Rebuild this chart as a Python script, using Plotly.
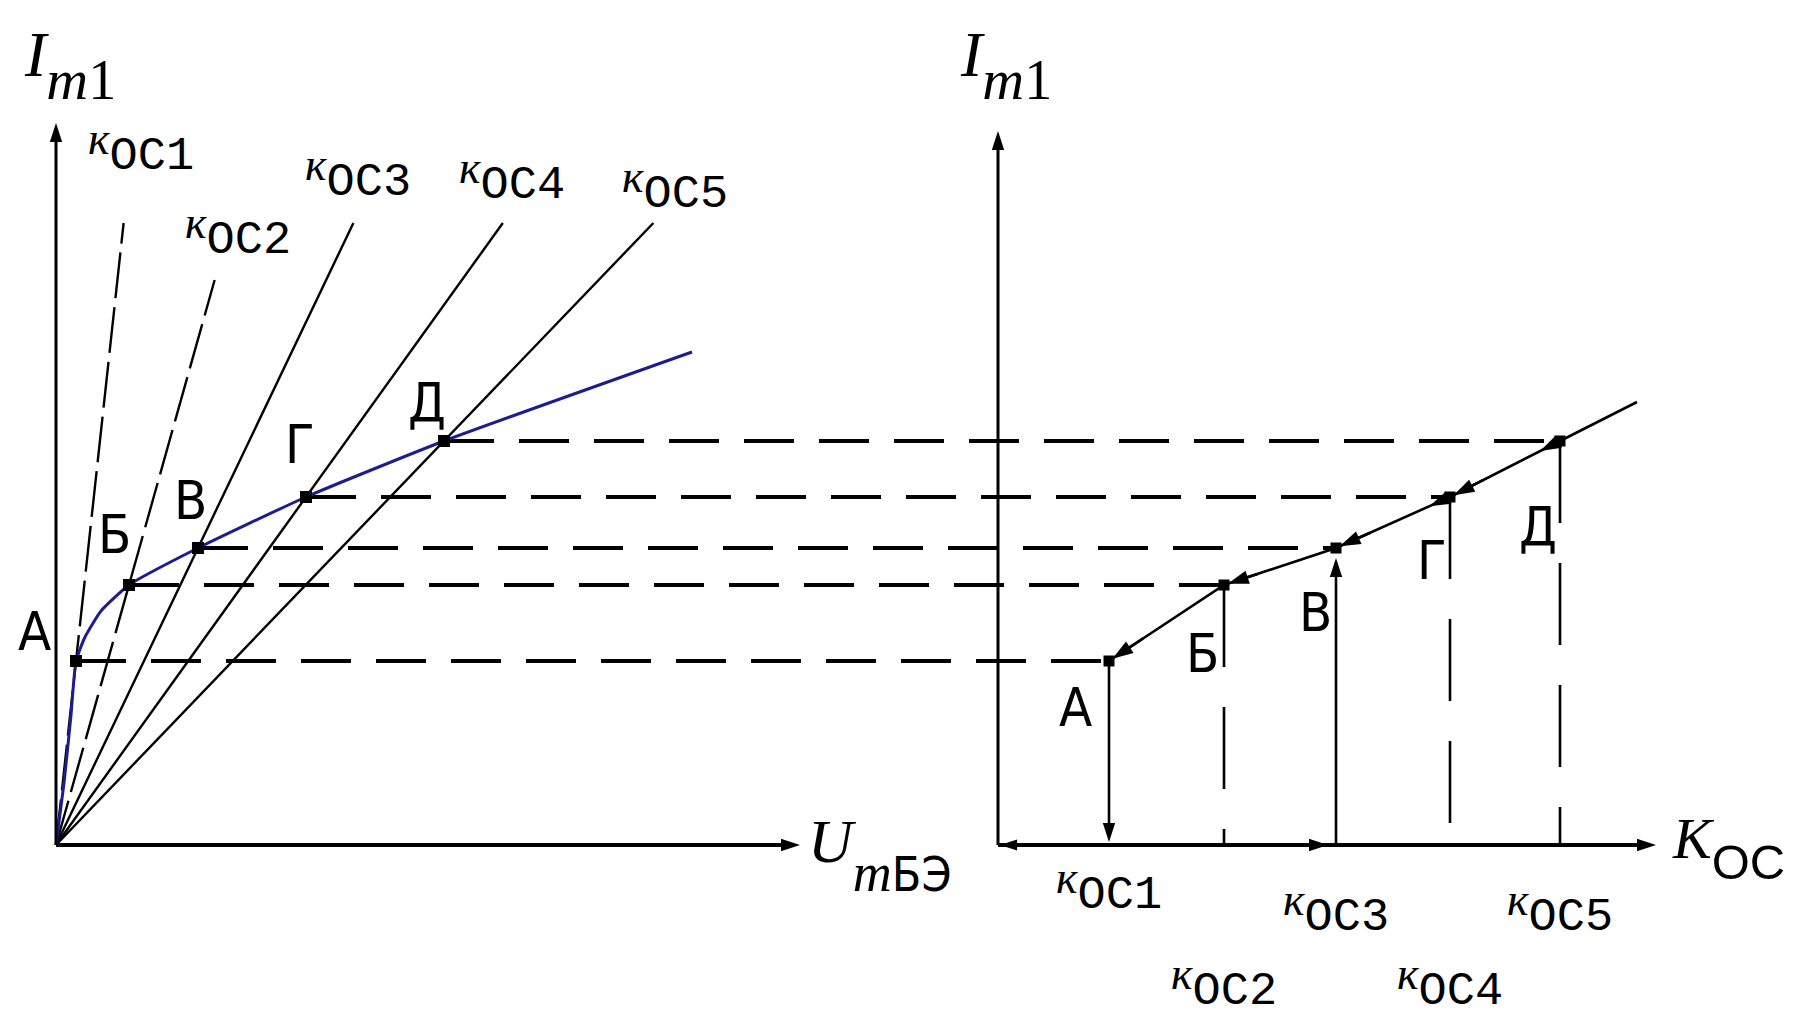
import plotly.graph_objects as go

# ---- data ---------------------------------------------------------------
points = ["А", "Б", "В", "Г", "Д"]                # operating points
i_m1 = [1.84, 2.60, 2.97, 3.48, 4.04]             # I_m1 at each point
u_mbe = [0.20, 0.73, 1.42, 2.50, 3.88]            # U_mБЭ at each point
k_oc = [1.11, 2.26, 3.38, 4.52, 5.62]             # K_OC at each point
k_names = ["ОС1", "ОС2", "ОС3", "ОС4", "ОС5"]

# input characteristic I_m1(U_mБЭ) (blue curve through А…Д)
char_u = [0.00, 0.08, 0.15, 0.20, 0.29, 0.45, 0.73, 1.42, 2.50, 3.88, 6.36]
char_i = [0.00, 0.62, 1.30, 1.84, 2.08, 2.34, 2.60, 2.97, 3.48, 4.04, 4.93]

# heights at which the feedback lines K_OC1..K_OC5 end
k_line_top = [6.22, 5.65, 6.22, 6.22, 6.22]

# continuation of I_m1(K_OC) beyond Д
tail_k, tail_i = 6.39, 4.43

# axis extents (arrow tips)
U_MAX, I_MAX_L = 7.44, 7.22
K_MAX, I_MAX_R = 6.58, 7.14

# ---- canvas / scales ------------------------------------------------------
W, H = 1793, 1024
PX = 100.0                 # pixels per unit on both axes
X0_PX, Y0_PX = 56, 845     # left origin in pixels
RIGHT_X0 = 9.42            # where the K_OC axis starts on the shared x scale

def rx(k):
    return RIGHT_X0 + k

SERIF = "Liberation Serif"
MONO = "Liberation Mono"
SANS = "DejaVu Sans Condensed, Liberation Sans"
BLUE = "#1d1d8f"
BLACK = "#000000"

def span(txt, family, size, italic=False):
    st = f"font-family:{family};font-size:{size}px"
    if italic:
        st += ";font-style:italic"
    return f'<span style="{st}">{txt}</span>'

def k_label(name):
    return span("к", SERIF, 46, True) + "<sub>" + span(name, MONO, 47) + "</sub>"

fig = go.Figure()

def line(x, y, width=2.5, dash="solid", color=BLACK):
    fig.add_trace(go.Scatter(
        x=x, y=y, mode="lines", line=dict(color=color, width=width, dash=dash),
        hoverinfo="skip", showlegend=False))

def arrow(x_tip, y_tip, x_tail, y_tail, width=2.5, head=18, standoff=0):
    # straight segment ending in an arrowhead oriented along the segment
    fig.add_trace(go.Scatter(
        x=[x_tail, x_tip], y=[y_tail, y_tip], mode="lines+markers",
        line=dict(color=BLACK, width=width),
        marker=dict(symbol="arrow", size=head, angleref="previous",
                    standoff=standoff, color=BLACK, line=dict(width=0)),
        hoverinfo="skip", showlegend=False))

# feedback lines from the origin through each operating point
for idx, (u, i, top) in enumerate(zip(u_mbe, i_m1, k_line_top)):
    line([0, u / i * top], [0, top], width=2.4,
         dash="46px,9px" if idx < 2 else "solid")

# horizontal projections А…Д from the left plot to the right one
for u, k, i in zip(u_mbe, k_oc, i_m1):
    line([u, rx(k)], [i, i], width=4, dash="50px,25px")

# vertical projections on the K_OC plot (Б, Г, Д dashed)
for idx in (1, 3, 4):
    line([rx(k_oc[idx])] * 2, [i_m1[idx], 0], width=2.6, dash="82px,40px")

# blue input characteristic
fig.add_trace(go.Scatter(
    x=char_u, y=char_i, mode="lines",
    line=dict(color=BLUE, width=3, shape="spline", smoothing=0.5),
    hoverinfo="skip", showlegend=False))

# resulting dependence I_m1(K_OC)
line([rx(k) for k in k_oc + [tail_k]], i_m1 + [tail_i], width=2.6)

# coordinate axes with arrowheads
arrow(0, I_MAX_L, 0, 0, width=3, head=20)
arrow(U_MAX, 0, 0, 0, width=4, head=20)
arrow(rx(0), I_MAX_R, rx(0), 0, width=3, head=20)
arrow(rx(K_MAX), 0, rx(0), 0, width=4, head=20)

# construction arrows on the K_OC plot
arrow(rx(k_oc[0]), 0, rx(k_oc[0]), i_m1[0], width=2.6, head=20, standoff=3)
arrow(rx(k_oc[2]), i_m1[2], rx(k_oc[2]), 0, width=2.6, head=20, standoff=10)
arrow(rx(0), 0, rx(0.6), 0, width=4, head=18, standoff=2)
arrow(rx(k_oc[2]), 0, rx(2.4), 0, width=4, head=20, standoff=8)
for idx in range(4):
    k0, i0 = k_oc[idx], i_m1[idx]
    k1, i1 = k_oc[idx + 1], i_m1[idx + 1]
    arrow(rx(k0), i0, rx(k0 + 0.3 * (k1 - k0)), i0 + 0.3 * (i1 - i0),
          width=2.6, head=22, standoff=4)
# arrows leaving Д and Г downward along the curve
for idx in (4, 3):
    k0, i0 = k_oc[idx], i_m1[idx]
    k1, i1 = k_oc[idx - 1], i_m1[idx - 1]
    arrow(rx(k0 + 0.18 * (k1 - k0)), i0 + 0.18 * (i1 - i0), rx(k0), i0,
          width=2.6, head=22)

# operating point markers
fig.add_trace(go.Scatter(
    x=u_mbe, y=i_m1, mode="markers",
    marker=dict(symbol="square", size=12, color=BLACK),
    hoverinfo="skip", showlegend=False))
fig.add_trace(go.Scatter(
    x=[rx(k) for k in k_oc], y=i_m1, mode="markers",
    marker=dict(symbol="square", size=11, color=BLACK),
    hoverinfo="skip", showlegend=False))

ann = []

# feedback-line labels on the left plot (pixel offsets from line ends)
k_lab_shift = [(-38, 75), (-32, 48), (-50, 49), (-46, 46), (-33, 37)]
for (u, i, top), name, (dx, dy) in zip(zip(u_mbe, i_m1, k_line_top), k_names, k_lab_shift):
    ann.append(dict(x=u / i * top, y=top, xref="x", yref="y",
                    text=k_label(name), showarrow=False,
                    xanchor="left", yanchor="middle", xshift=dx, yshift=dy,
                    font=dict(size=71, color=BLACK, family=SERIF)))

# K_OC tick labels under the right axis (staggered rows)
tick_drop = [-42, -138, -64, -138, -64]
for k, name, dy in zip(k_oc, k_names, tick_drop):
    ann.append(dict(x=rx(k), y=0, xref="x", yref="y",
                    text=k_label(name), showarrow=False,
                    xanchor="center", yanchor="middle", yshift=dy,
                    font=dict(size=71, color=BLACK, family=SERIF)))

# point letters
left_shift = [(-42, 30), (-15, 51), (-8, 48), (-6, 53), (-17, 39)]
right_shift = [(-34, -46), (-22, -68), (-21, -64), (-18, -63), (-22, -85)]
for name, u, k, i, (lx, ly), (qx, qy) in zip(points, u_mbe, k_oc, i_m1, left_shift, right_shift):
    for xv, sx, sy in ((u, lx, ly), (rx(k), qx, qy)):
        ann.append(dict(x=xv, y=i, xref="x", yref="y", text=name,
                        showarrow=False, xanchor="center", yanchor="middle",
                        xshift=sx, yshift=sy,
                        font=dict(size=54, color=BLACK, family=SANS)))

# axis titles
i_title = (span("I", SERIF, 64, True) + "<sub>" + span("m", SERIF, 58, True)
           + span("1", SERIF, 56) + "</sub>")
for xv in (-0.34, rx(-0.40)):
    ann.append(dict(x=xv, y=7.80, xref="x", yref="y", text=i_title,
                    showarrow=False, xanchor="left", yanchor="middle",
                    font=dict(size=110, color=BLACK, family=SERIF)))
ann.append(dict(x=7.50, y=-0.10, xref="x", yref="y",
                text=span("U", SERIF, 62, True) + "<sub>" + span("m", SERIF, 54, True)
                + span("БЭ", SANS, 48) + "</sub>",
                showarrow=False, xanchor="left", yanchor="middle",
                font=dict(size=138, color=BLACK, family=SERIF)))
ann.append(dict(x=rx(6.72), y=-0.02, xref="x", yref="y",
                text=span("K", SERIF, 58, True) + "<sub>" + span("ОС", "Liberation Sans", 49) + "</sub>",
                showarrow=False, xanchor="left", yanchor="middle",
                font=dict(size=100, color=BLACK, family=SERIF)))

fig.update_layout(
    width=W, height=H, autosize=False,
    margin=dict(l=0, r=0, t=0, b=0, pad=0),
    paper_bgcolor="white", plot_bgcolor="white",
    xaxis=dict(range=[-X0_PX / PX, (W - X0_PX) / PX], visible=False, fixedrange=True),
    yaxis=dict(range=[-(H - Y0_PX) / PX, Y0_PX / PX], visible=False, fixedrange=True),
    annotations=ann,
)

fig.write_html("out.html")
